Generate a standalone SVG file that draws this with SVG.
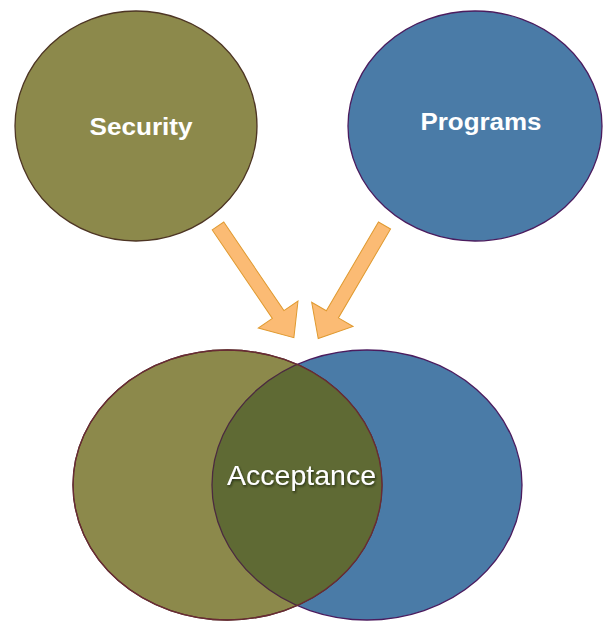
<svg xmlns="http://www.w3.org/2000/svg" width="605" height="621" viewBox="0 0 605 621">
<style>
.olive{fill:#8c894b;stroke:#4d3524;stroke-width:1.3}
.blue{fill:#4a7ba7;stroke:#4b1c5e;stroke-width:1.3}
.lbl{font-family:"Liberation Sans",Arial,sans-serif;font-weight:bold;fill:#ffffff;text-anchor:middle}
.big{font-family:"Liberation Sans",Arial,sans-serif;fill:#ffffff;text-anchor:middle}
.arrow{fill:#fbbb74;stroke:#e09a30;stroke-width:1}
</style>
<defs>
<clipPath id="clipL"><ellipse cx="227.5" cy="485" rx="154.5" ry="135"/></clipPath>
<filter id="sh" x="-10%" y="-30%" width="120%" height="160%"><feDropShadow dx="1" dy="1.5" stdDeviation="1" flood-color="#1e2410" flood-opacity="0.8"/></filter>
</defs>
<rect width="605" height="621" fill="#ffffff"/>
<g id="security">
<ellipse class="olive" cx="136" cy="126" rx="121" ry="115"/>
<text class="lbl" x="141" y="135" font-size="24" textLength="103" lengthAdjust="spacingAndGlyphs">Security</text>
</g>
<g id="programs">
<ellipse class="blue" cx="475" cy="126" rx="127" ry="115"/>
<text class="lbl" x="481" y="130" font-size="24" textLength="121" lengthAdjust="spacingAndGlyphs">Programs</text>
</g>
<g id="connectors">
<polygon class="arrow" transform="translate(218,226) rotate(55.8)" points="0,-7 107,-7 107,-24 135,0 107,24 107,7 0,7"/>
<polygon class="arrow" transform="translate(384.5,225.5) rotate(120.4)" points="0,-7 103,-7 103,-24 131,0 103,24 103,7 0,7"/>
</g>
<g id="acceptance">
<ellipse class="blue" cx="367" cy="485" rx="155" ry="135"/>
<ellipse class="olive" cx="227.5" cy="485" rx="154.5" ry="135"/>
<ellipse cx="367" cy="485" rx="155" ry="135" fill="#5f6a34" stroke="#4b2a40" stroke-width="1.3" clip-path="url(#clipL)"/>
<ellipse cx="227.5" cy="485" rx="154.5" ry="135" fill="none" stroke="#6a2a35" stroke-width="1.3"/>
<text class="big" x="301.5" y="485" font-size="28" textLength="149" lengthAdjust="spacingAndGlyphs" filter="url(#sh)">Acceptance</text>
</g>
</svg>
